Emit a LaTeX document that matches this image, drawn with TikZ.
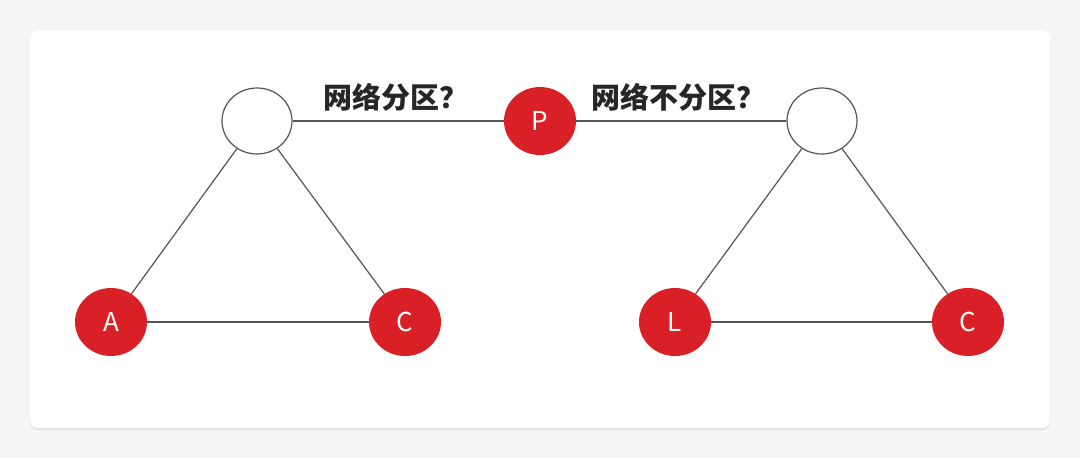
\documentclass[tikz,border=0pt]{standalone}
\usepackage{fontspec}
\newfontfamily\cjk{Noto Sans CJK SC}
\usetikzlibrary{positioning,shadows,shapes.geometric}
\definecolor{nodered}{HTML}{D92027}
\definecolor{edgegray}{HTML}{555555}
\tikzset{
  hub/.style={ellipse,draw=edgegray,line width=1.2pt,fill=white,minimum width=70pt,minimum height=66pt,inner sep=0pt},
  site/.style={ellipse,fill=nodered,text=white,minimum width=72pt,minimum height=68pt,inner sep=0pt,font=\cjk\fontsize{26}{26}\selectfont},
  link/.style={draw=edgegray,line width=1.2pt},
  ask/.style={font=\cjk\bfseries\fontsize{29}{29}\selectfont,text=black!85}
}
\begin{document}
\begin{tikzpicture}[x=1pt,y=-1pt]
  \useasboundingbox (0,0) rectangle (1080,458);
  \fill[white!96!black] (0,0) rectangle (1080,458);
  \fill[white,rounded corners=8pt,drop shadow={opacity=0.15,shadow xshift=0pt,shadow yshift=-2pt}] (30,30) rectangle (1050,428);
  \node[hub] (t1) at (257,121) {};
  \node[site] (p) at (540,121) {P};
  \node[hub] (t2) at (822,121) {};
  \node[site] (a) at (111,322) {A};
  \node[site] (c1) at (405,322) {C};
  \node[site] (l) at (675,322) {L};
  \node[site] (c2) at (968,322) {C};
	\node[ask] (q1) at (396,97) {网络分区？};
	\node[ask] (q2) at (678,97) {网络不分区？};
	\draw[link] (t1) -- (p);
	\draw[link] (p) -- (t2);
	\draw[link] (t1) -- (a);
	\draw[link] (t1) -- (c1);
	\draw[link] (a) -- (c1);
	\draw[link] (t2) -- (l);
	\draw[link] (t2) -- (c2);
	\draw[link] (l) -- (c2);
\end{tikzpicture}
\end{document}
